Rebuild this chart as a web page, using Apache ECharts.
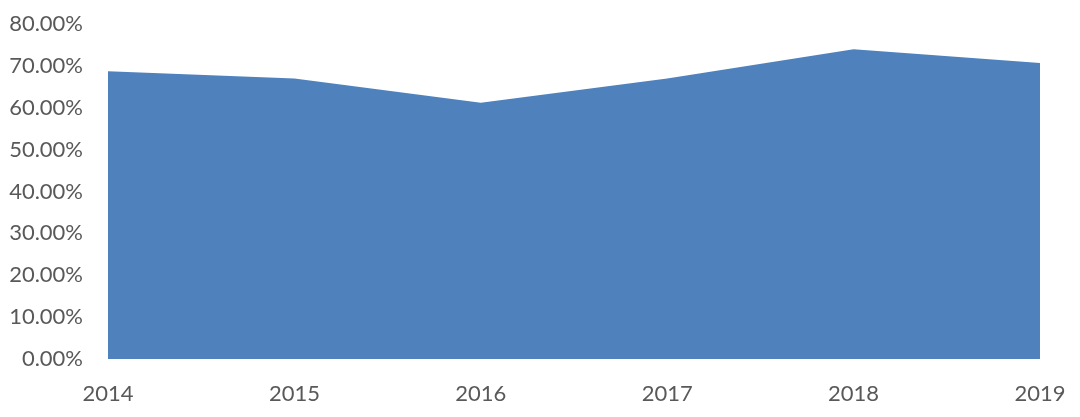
<!DOCTYPE html>
<html>
<head>
<meta charset="utf-8">
<script src="https://cdn.jsdelivr.net/npm/echarts@6/dist/echarts.min.js"></script>
<style>
  html, body { margin: 0; padding: 0; background: #fff; }
  #main { width: 1080px; height: 417px; }
</style>
</head>
<body>
<div id="main"></div>
<script>
// 年份 / 占比(%)
const years = ['2014', '2015', '2016', '2017', '2018', '2019']
const ratios = [68.7, 67.0, 61.2, 67.0, 74.0, 70.7]
const yMin = 0
const yMax = 80
const yStep = 10

const chart = echarts.init(document.getElementById('main'), null, { renderer: 'canvas' })

const labelStyle = {
  color: '#595959',
  fontFamily: 'Lato, "Liberation Sans", sans-serif',
  fontSize: 22
}

chart.setOption({
  backgroundColor: '#ffffff',
  animation: false,
  grid: { left: 108, right: 40, top: 24, bottom: 58 },
  xAxis: {
    type: 'category',
    data: years,
    boundaryGap: false,
    axisLine: { show: false },
    axisTick: { show: false },
    axisLabel: Object.assign({ margin: 24 }, labelStyle)
  },
  yAxis: {
    type: 'value',
    min: yMin,
    max: yMax,
    interval: yStep,
    splitLine: { show: false },
    axisLine: { show: false },
    axisTick: { show: false },
    axisLabel: Object.assign({
      margin: 25,
      formatter: v => v.toFixed(2) + '%'
    }, labelStyle)
  },
  series: [{
    type: 'line',
    data: ratios,
    symbol: 'none',
    lineStyle: { width: 0 },
    areaStyle: { color: '#4F81BD', opacity: 1 }
  }]
})
</script>
</body>
</html>
